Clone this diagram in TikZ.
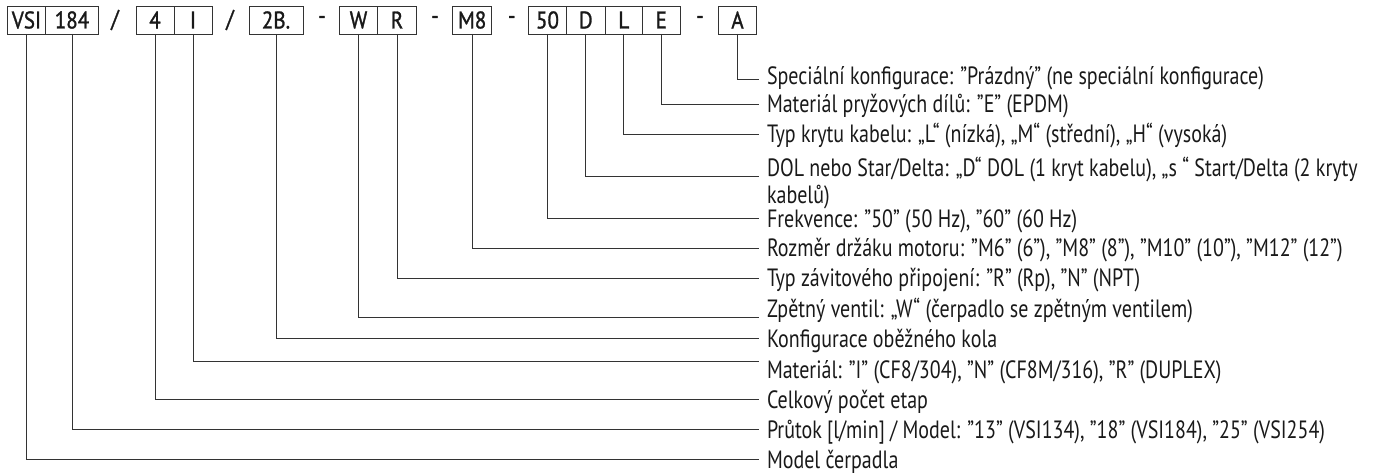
\documentclass[tikz,border=0pt]{standalone}
\usepackage{fontspec}
\setmainfont[FakeStretch=0.8]{PT Sans}
\newfontfamily\codefont[FakeStretch=0.88, FakeBold=1.2]{PT Sans}
\usetikzlibrary{calc}
\begin{document}
\begin{tikzpicture}[x=1pt,y=-1pt,
  every node/.style={inner sep=0pt, outer sep=0pt},
  codebox/.style={draw=black!80, line width=0.9pt, minimum height=28pt,
    font=\codefont\fontsize{24}{26}\selectfont, text=black!90},
  sep/.style={font=\codefont\fontsize{24}{26}\selectfont, text=black!90},
  lbl/.style={anchor=base west, font=\fontsize{25}{27}\selectfont, text=black!90, align=left},
  lbltwo/.style={anchor=west, font=\fontsize{25}{27}\selectfont, text=black!90, align=left},
  conn/.style={draw=black!80, line width=0.9pt},
]
\useasboundingbox (0,0) rectangle (1377,473);

% code boxes
\node[codebox, minimum width=38.4pt] (bVSI) at (26.5,20) {VSI};
\node[codebox, minimum width=52.6pt] (b184) at (72,20) {184};
\node[sep] (s1) at (115,20) {/};
\node[codebox, minimum width=38pt] (b4) at (155,20) {4};
\node[codebox, minimum width=38pt] (bI) at (193,20) {I};
\node[sep] (s2) at (230,20) {/};
\node[codebox, minimum width=54pt] (b2B) at (276,20) {2B.};
\node[sep] (s3) at (322,20) {-};
\node[codebox, minimum width=38.5pt] (bW) at (358.5,20) {W};
\node[codebox, minimum width=38.5pt] (bR) at (397,20) {R};
\node[sep] (s4) at (435,20) {-};
\node[codebox, minimum width=39pt] (bM8) at (472.2,20) {M8};
\node[sep] (s5) at (511.7,20) {-};
\node[codebox, minimum width=38.4pt] (b50) at (547.5,20) {50};
\node[codebox, minimum width=38.3pt] (bD) at (585.8,20) {D};
\node[codebox, minimum width=37.7pt] (bL) at (623.8,20) {L};
\node[codebox, minimum width=37.3pt] (bE) at (661.3,20) {E};
\node[sep] (s6) at (700,20) {-};
\node[codebox, minimum width=38.4pt] (bA) at (737.5,20) {A};

% line ends
\coordinate (eA) at (759,79);
\coordinate (eE) at (759,104);
\coordinate (eL) at (759,134);
\coordinate (eD) at (759,176);
\coordinate (e50) at (759,218);
\coordinate (eM8) at (759,248);
\coordinate (eR) at (759,278);
\coordinate (eW) at (759,317);
\coordinate (e2B) at (759,338);
\coordinate (eI) at (759,361);
\coordinate (e4) at (759,399);
\coordinate (e184) at (759,429);
\coordinate (eVSI) at (759,459);

% labels
\node[lbl] (lA) at (767,85) {Speciální konfigurace: "Prázdný" (ne speciální konfigurace)};
\node[lbl] (lE) at (767,113) {Materiál pryžových dílů: "E" (EPDM)};
\node[lbl] (lL) at (767,143) {Typ krytu kabelu: „L“ (nízká), „M“ (střední), „H“ (vysoká)};
\node[lbltwo] (lD) at (767,183.5) {DOL nebo Star/Delta: „D“ DOL (1 kryt kabelu), „s “ Start/Delta (2 kryty\\kabelů)};
\node[lbl] (l50) at (767,228) {Frekvence: "50" (50 Hz), "60" (60 Hz)};
\node[lbl] (lM8) at (767,257) {Rozměr držáku motoru: "M6" (6"), "M8" (8"), "M10" (10"), "M12" (12")};
\node[lbl] (lR) at (767,287) {Typ závitového připojení: "R" (Rp), "N" (NPT)};
\node[lbl] (lW) at (767,317) {Zpětný ventil: „W“ (čerpadlo se zpětným ventilem)};
\node[lbl] (l2B) at (767,348) {Konfigurace oběžného kola};
\node[lbl] (lI) at (767,378) {Materiál: "I" (CF8/304), "N" (CF8M/316), "R" (DUPLEX)};
\node[lbl] (l4) at (767,408) {Celkový počet etap};
\node[lbl] (l184) at (767,438) {Průtok [l/min] / Model: "13" (VSI134), "18" (VSI184), "25" (VSI254)};
\node[lbl] (lVSI) at (767,468) {Model čerpadla};

% connectors
\draw[conn] (bA.south) |- (eA);
\draw[conn] (bE.south) |- (eE);
\draw[conn] (bL.south) |- (eL);
\draw[conn] (bD.south) |- (eD);
\draw[conn] (b50.south) |- (e50);
\draw[conn] (bM8.south) |- (eM8);
\draw[conn] (bR.south) |- (eR);
\draw[conn] (bW.south) |- (eW);
\draw[conn] (b2B.south) |- (e2B);
\draw[conn] (bI.south) |- (eI);
\draw[conn] (b4.south) |- (e4);
\draw[conn] (b184.south) |- (e184);
\draw[conn] (bVSI.south) |- (eVSI);
\end{tikzpicture}
\end{document}
